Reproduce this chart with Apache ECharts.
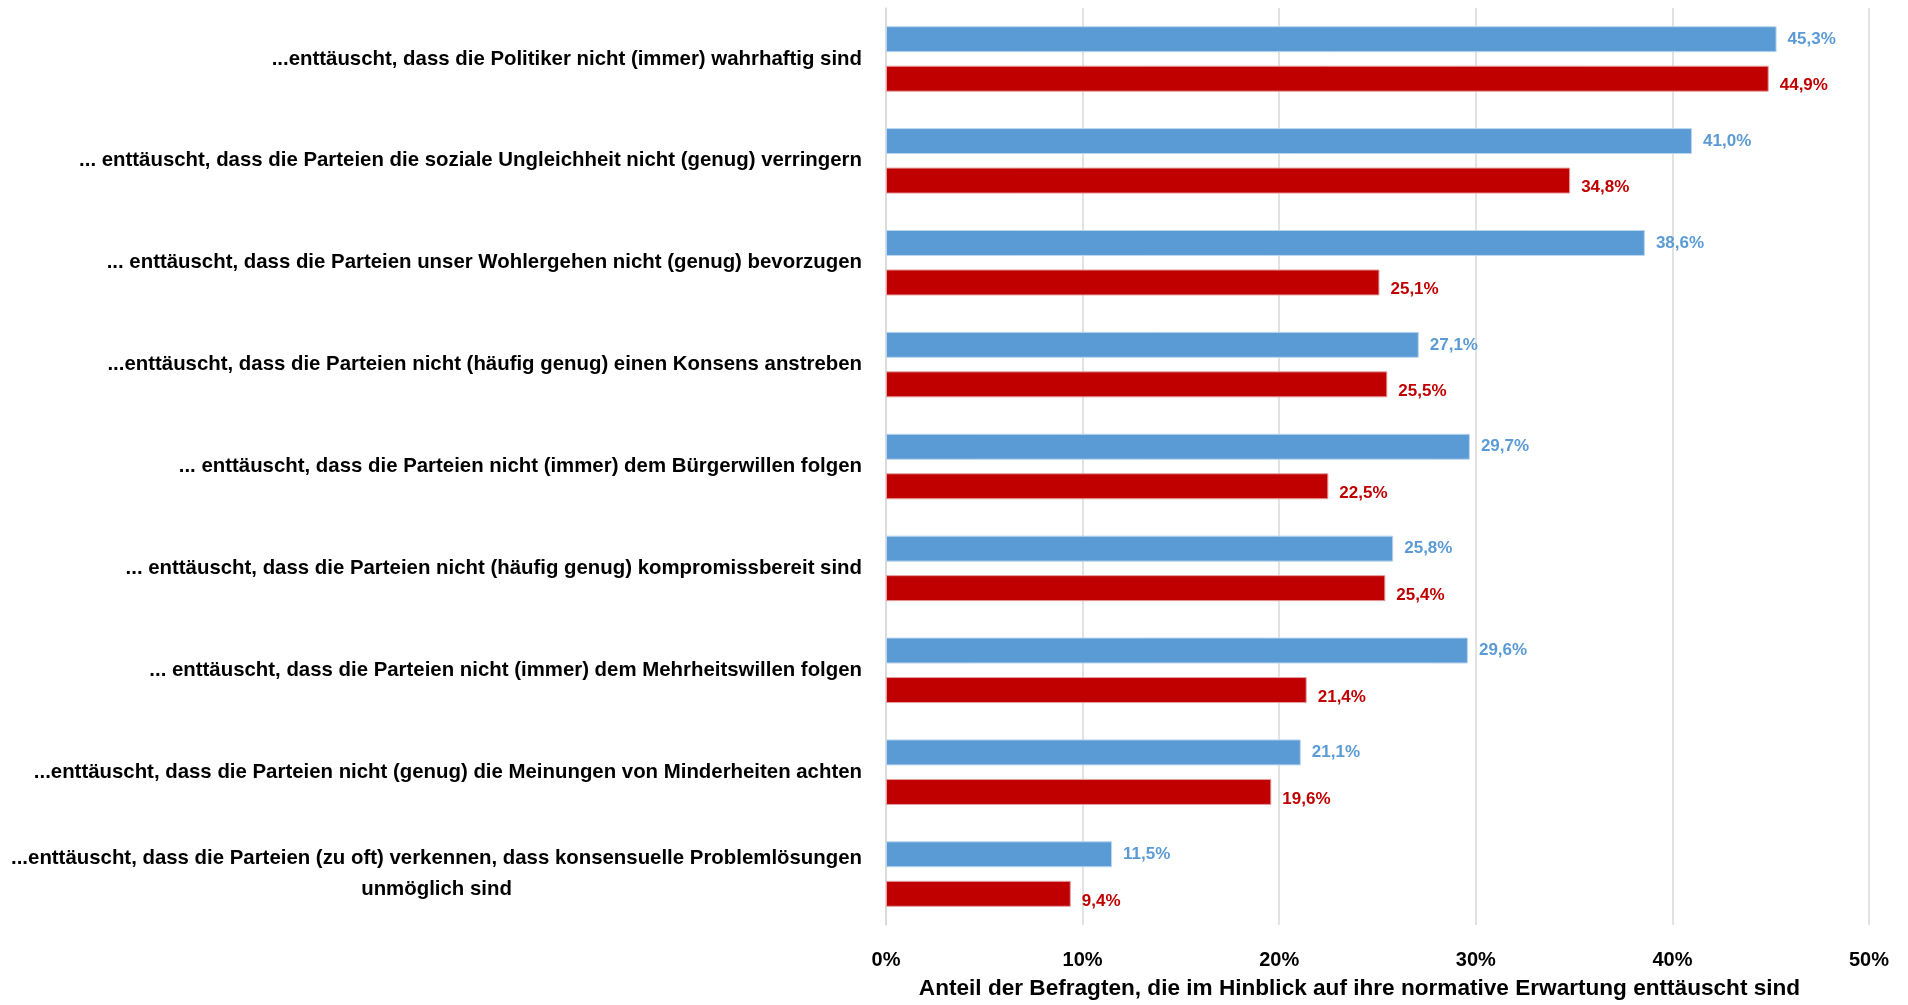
<!DOCTYPE html>
<html>
<head>
<meta charset="utf-8">
<script src="https://cdn.jsdelivr.net/npm/echarts@6/dist/echarts.min.js"></script>
<style>
html,body{margin:0;padding:0;background:#fff;}
#chart{width:1908px;height:1005px;}
</style>
</head>
<body>
<div id="chart"></div>
<script>
const categories = [
  "...enttäuscht, dass die Politiker nicht (immer) wahrhaftig sind",
  "... enttäuscht, dass die Parteien die soziale Ungleichheit nicht (genug) verringern",
  "... enttäuscht, dass die Parteien unser Wohlergehen nicht (genug) bevorzugen",
  "...enttäuscht, dass die Parteien nicht (häufig genug) einen Konsens anstreben",
  "... enttäuscht, dass die Parteien nicht (immer) dem Bürgerwillen folgen",
  "... enttäuscht, dass die Parteien nicht (häufig genug) kompromissbereit sind",
  "... enttäuscht, dass die Parteien nicht (immer) dem Mehrheitswillen folgen",
  "...enttäuscht, dass die Parteien nicht (genug) die Meinungen von Minderheiten achten",
  "...enttäuscht, dass die Parteien (zu oft) verkennen, dass konsensuelle Problemlösungen\nunmöglich sind"
];
const seriesBlue = [45.3, 41.0, 38.6, 27.1, 29.7, 25.8, 29.6, 21.1, 11.5];
const seriesRed = [44.9, 34.8, 25.1, 25.5, 22.5, 25.4, 21.4, 19.6, 9.4];
const xTicks = [0, 10, 20, 30, 40, 50];
const axisTitle = "Anteil der Befragten, die im Hinblick auf ihre normative Erwartung enttäuscht sind";

const FONT = "'Liberation Sans', Arial, sans-serif";
const fmt = v => v.toFixed(1).replace('.', ',') + '%';

const chart = echarts.init(document.getElementById('chart'));
chart.setOption({
  animation: false,
  grid: { left: 886, right: 39, top: 8, bottom: 72, containLabel: false },
  xAxis: {
    type: 'value',
    min: xTicks[0], max: xTicks[xTicks.length - 1], interval: 10,
    axisLine: { show: false },
    axisTick: { show: false },
    splitLine: { show: true, lineStyle: { color: '#D9D9D9', width: 1.5 } },
    axisLabel: {
      margin: 25, color: '#000', fontFamily: FONT, fontWeight: 'bold', fontSize: 20,
      formatter: v => v + '%'
    },
    name: axisTitle,
    nameLocation: 'middle',
    nameGap: 52,
    nameTextStyle: { color: '#000', fontFamily: FONT, fontWeight: 'bold', fontSize: 22.6, padding: [0, 36, 0, 0] }
  },
  yAxis: {
    type: 'category',
    inverse: true,
    data: categories,
    axisLine: { show: true, lineStyle: { color: '#D9D9D9', width: 1.5 } },
    axisTick: { show: false },
    axisLabel: {
      margin: 24, color: '#000', fontFamily: FONT, fontWeight: 'bold', fontSize: 20.4,
      lineHeight: 31,
      formatter: function (v) {
        const parts = v.split('\n');
        if (parts.length === 1) return v;
        return '{a|' + parts[0] + '}\n{c|' + parts[1] + '}';
      },
      rich: {
        a: { fontFamily: FONT, fontWeight: 'bold', fontSize: 20.4, lineHeight: 31, color: '#000' },
        c: { fontFamily: FONT, fontWeight: 'bold', fontSize: 20.4, lineHeight: 31, color: '#000', align: 'center' }
      }
    }
  },
  series: [
    {
      type: 'bar', data: seriesBlue, barWidth: 26, barGap: '52%',
      itemStyle: { color: '#5B9BD5', borderColor: '#BDD7EE', borderWidth: 1 },
      label: { show: true, position: 'right', distance: 11, color: '#5B9BD5', fontFamily: FONT, fontWeight: 'bold', fontSize: 17,
        formatter: p => fmt(p.value) }
    },
    {
      type: 'bar', data: seriesRed, barWidth: 26,
      itemStyle: { color: '#C00000', borderColor: '#E6A0A0', borderWidth: 1 },
      label: { show: true, position: 'right', distance: 11, offset: [0, 7], color: '#C00000', fontFamily: FONT, fontWeight: 'bold', fontSize: 17,
        formatter: p => fmt(p.value) }
    }
  ]
});
</script>
</body>
</html>
